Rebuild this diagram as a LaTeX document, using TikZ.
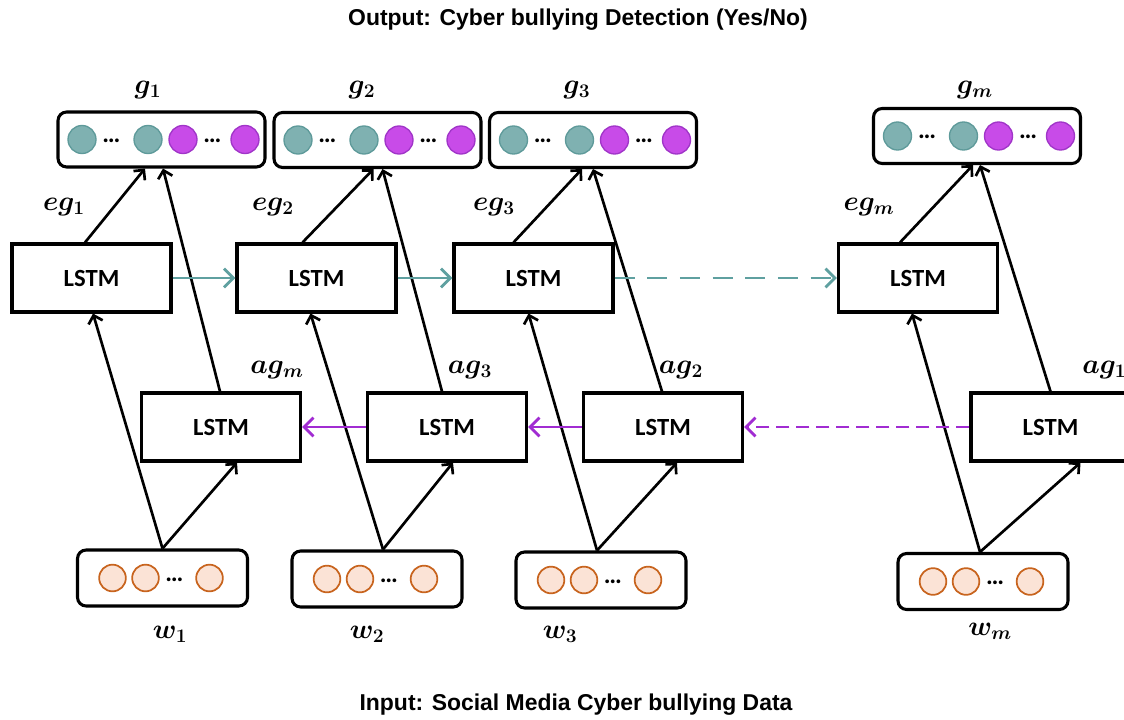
\documentclass[tikz,border=0pt]{standalone}
\usepackage{fontspec}
\setsansfont{Liberation Sans}
\newfontfamily\lstmfont{Carlito}
\usetikzlibrary{arrows.meta,calc}
\definecolor{tealf}{HTML}{7FB1B1}
\definecolor{teald}{HTML}{5E9A9A}
\definecolor{magf}{HTML}{C84BE8}
\definecolor{magd}{HTML}{A035C8}
\definecolor{tealarr}{HTML}{5FA0A0}
\definecolor{magarr}{HTML}{A12CD2}
\definecolor{orf}{HTML}{FBE3D6}
\definecolor{ord}{HTML}{C8641E}
\begin{document}
\begin{tikzpicture}[x=0.75pt,y=-0.75pt,
  lstm/.style={draw,fill=white,line width=2.3pt,minimum width=119.25pt,minimum height=51pt,inner sep=0pt,font=\lstmfont\bfseries\fontsize{18.5}{20}\selectfont},
  gbox/.style={draw,fill=white,line width=2.3pt,rounded corners=6.5pt,minimum width=155.25pt,minimum height=41.25pt,inner sep=0pt},
  wbox/.style={draw,fill=white,line width=2.3pt,rounded corners=6.5pt,minimum width=127.5pt,minimum height=42pt,inner sep=0pt},
  tdot/.style={circle,draw=teald,fill=tealf,line width=1pt,minimum size=21pt,inner sep=0pt},
  mdot/.style={circle,draw=magd,fill=magf,line width=1pt,minimum size=21pt,inner sep=0pt},
  odot/.style={circle,draw=ord,fill=orf,line width=1.3pt,minimum size=20pt,inner sep=0pt},
  ell/.style={inner sep=0pt,anchor=base,font=\lstmfont\bfseries\fontsize{19}{19}\selectfont},
  lab/.style={inner sep=0pt,font=\fontsize{21}{23}\selectfont\boldmath},
  arr/.style={draw,line width=2pt,-{Straight Barb[length=5.5pt,width=11pt]}},
  tarr/.style={draw=tealarr,line width=2.2pt,-{Straight Barb[length=7pt,width=14pt]}},
  marr/.style={draw=magarr,line width=2.2pt,-{Straight Barb[length=7pt,width=14pt]}},
  ttl/.style={font=\sffamily\bfseries\fontsize{17.2}{19}\selectfont,inner sep=0pt}
]
\useasboundingbox (0,0) rectangle (1124,720);

\node[ttl] (out) at (578,20) {Output: Cyber bullying Detection (Yes/No)};
\node[ttl] (inp) at (576,705) {Input: Social Media Cyber bullying Data};

% g boxes
\foreach \i/\gx/\gy in {1/161.5/139.5, 2/377.5/140, 3/593/140, 4/977/136} {
  \node[gbox] (g\i) at (\gx,\gy) {};
  \node[tdot] (g\i-a) at ($(g\i)+(-79.5,0)$) {};
  \node[ell]  (g\i-d1) at ($(g\i)+(-50,3)$) {…};
  \node[tdot] (g\i-b) at ($(g\i)+(-13.5,0)$) {};
  \node[mdot] (g\i-c) at ($(g\i)+(21.5,0)$) {};
  \node[ell]  (g\i-d2) at ($(g\i)+(51,3)$) {…};
  \node[mdot] (g\i-e) at ($(g\i)+(83.5,0)$) {};
}
% w boxes
\foreach \i/\wx/\wy in {1/162.5/578, 2/377/579, 3/601/580, 4/983/581.5} {
  \node[wbox] (w\i) at (\wx,\wy) {};
  \node[odot] (w\i-a) at ($(w\i)+(-50,0)$) {};
  \node[odot] (w\i-b) at ($(w\i)+(-17,0)$) {};
  \node[ell]  (w\i-d) at ($(w\i)+(12,3)$) {…};
  \node[odot] (w\i-c) at ($(w\i)+(47,0)$) {};
}
% LSTM boxes
\node[lstm] (t1) at (91.5,278) {LSTM};
\node[lstm] (t2) at (316.5,278) {LSTM};
\node[lstm] (t3) at (533.5,278) {LSTM};
\node[lstm] (t4) at (918,278) {LSTM};
\node[lstm] (b1) at (221,427) {LSTM};
\node[lstm] (b2) at (447,427) {LSTM};
\node[lstm] (b3) at (663,427) {LSTM};
\node[lstm] (b4) at (1050.5,427) {LSTM};

% labels
\node[lab] (lg1) at (148,90) {$g_{1}$};
\node[lab] (lg2) at (362,90) {$g_{2}$};
\node[lab] (lg3) at (577,90) {$g_{3}$};
\node[lab] (lg4) at (975,90) {$g_{m}$};
\node[lab] (le1) at (64,207) {$eg_{1}$};
\node[lab] (le2) at (273,207) {$eg_{2}$};
\node[lab] (le3) at (494,207) {$eg_{3}$};
\node[lab] (le4) at (869,207) {$eg_{m}$};
\node[lab] (la1) at (277,370) {$ag_{m}$};
\node[lab] (la2) at (470,370) {$ag_{3}$};
\node[lab] (la3) at (681,370) {$ag_{2}$};
\node[lab,anchor=west] (la4) at (1082,370) {$ag_{1}$};
\node[lab] (lw1) at (170,634) {$w_{1}$};
\node[lab] (lw2) at (367,634) {$w_{2}$};
\node[lab] (lw3) at (560,634) {$w_{3}$};
\node[lab] (lw4) at (990,631) {$w_{m}$};

% vertical connections
\foreach \i/\tb/\tt/\ga/\gb/\bt/\bb/\wa in {
  1/1.5/-6.5/-16.5/1.5/-1/16/0,
  2/-6/-14/-4/5/-5/6/6,
  3/-5/-20/-11/0/-1/14/-4,
  4/-6/-18/-4/3/0/30/-3} {
  \draw[arr] ($(w\i.north)+(\wa,0)$) -- ($(t\i.south)+(\tb,0)$);
  \draw[arr] ($(w\i.north)+(\wa,0)$) -- ($(b\i.south)+(\bb,0)$);
  \draw[arr] ($(t\i.north)+(\tt,0)$) -- ($(g\i.south)+(\ga,0)$);
  \draw[arr] ($(b\i.north)+(\bt,0)$) -- ($(g\i.south)+(\gb,0)$);
}

% horizontal connections
\draw[tarr] (t1.east) -- (t2.west);
\draw[tarr] (t2.east) -- (t3.west);
\draw[tarr,dash pattern=on 15pt off 9.5pt] (t3.east) -- (t4.west);
\draw[marr] (b2.west) -- (b1.east);
\draw[marr] (b3.west) -- (b2.east);
\draw[marr,dash pattern=on 10pt off 5pt] (b4.west) -- (b3.east);
\end{tikzpicture}
\end{document}
